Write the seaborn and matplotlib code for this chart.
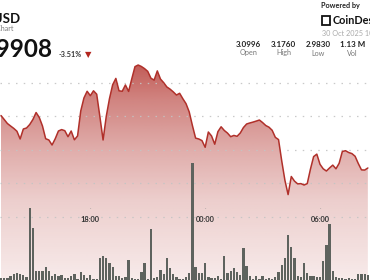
import numpy as np
import pandas as pd
import matplotlib
matplotlib.use("Agg")
import matplotlib.pyplot as plt
from matplotlib.patches import Rectangle
import matplotlib.transforms as mtransforms
import seaborn as sns

# ---------------- data ----------------
# 10-minute buckets starting 13:20 (hours since midnight of day 1; 24 = 00:00 next day)
start_hour = 13 + 20 / 60
price = [
    3.1010, 3.0951, 3.0891, 3.0854, 3.0818, 3.0775, 3.0660, 3.0809, 3.0824, 3.0876,
    3.0951, 3.1055, 3.0981, 3.0854, 3.0664, 3.0645, 3.0570, 3.0664, 3.0779, 3.0800,
    3.0784, 3.0694, 3.0779, 3.0648, 3.0705, 3.1078, 3.1272, 3.1372, 3.1306, 3.1379,
    3.1328, 3.0993, 3.0645, 3.0999, 3.1261, 3.1469, 3.1564, 3.1379, 3.1372, 3.1466,
    3.1370, 3.1558, 3.1740, 3.1764, 3.1742, 3.1710, 3.1669, 3.1567, 3.1539, 3.1676,
    3.1554, 3.1500, 3.1436, 3.1404, 3.1363, 3.1316, 3.1342, 3.1261, 3.1187, 3.1064,
    3.0861, 3.0673, 3.0660, 3.0636, 3.0536, 3.0764, 3.0705, 3.0582, 3.0770, 3.0842,
    3.0787, 3.0748, 3.0694, 3.0713, 3.0700, 3.0749, 3.0831, 3.0884, 3.0899, 3.0912,
    3.0927, 3.0943, 3.0905, 3.0861, 3.0836, 3.0790, 3.0684, 3.0651, 3.0333, 3.0043,
    2.9830, 3.0100, 3.0031, 2.9990, 2.9994, 2.9973, 2.9994, 3.0209, 3.0397, 3.0434,
    3.0282, 3.0215, 3.0182, 3.0228, 3.0270, 3.0215, 3.0297, 3.0473, 3.0485, 3.0458,
    3.0442, 3.0402, 3.0294, 3.0199, 3.0196, 3.0227,
]
volume_k = [
    1.7, 2.3, 1.7, 4.3, 5.7, 7.0, 6.3, 5.0, 3.3, 72.3,
    51.7, 9.0, 9.0, 9.0, 12.7, 9.0, 4.0, 6.3, 4.0, 5.0,
    1.7, 2.3, 3.7, 6.3, 1.0, 8.3, 5.0, 2.3, 5.0, 1.0,
    1.0, 22.3, 24.0, 22.3, 16.7, 13.3, 4.0, 4.3, 1.7, 3.3,
    20.0, 1.7, 1.0, 1.0, 8.3, 16.7, 1.0, 50.7, 1.7, 3.3,
    9.7, 5.7, 22.3, 12.3, 5.7, 3.3, 1.0, 1.0, 3.3, 6.7,
    117.3, 13.3, 6.7, 6.7, 17.3, 3.3, 2.3, 1.7, 4.3, 1.0,
    24.3, 6.7, 9.0, 11.7, 8.3, 5.0, 31.7, 14.3, 4.3, 1.0,
    4.3, 1.0, 4.3, 1.0, 1.7, 1.0, 3.3, 7.7, 15.0, 21.7,
    45.0, 33.3, 22.3, 4.3, 3.3, 16.7, 6.7, 4.3, 4.3, 3.3,
    3.3, 19.0, 35.0, 55.7, 9.0, 3.3, 1.7, 2.3, 1.0, 1.7,
    1.0, 1.0, 6.3, 6.3, 6.3, 5.0,
]
tick_hours = [18, 24, 30]
tick_labels = ["18:00", "00:00", "06:00"]
grid_levels = [3.15, 3.10, 3.05, 3.00, 2.95]
stat_values = ["3.0996", "3.1760", "2.9830", "1.13 M"]
stat_labels = ["Open", "High", "Low", "Vol"]

hours = start_hour + np.arange(len(price)) / 6.0
df = pd.DataFrame({"hour": hours, "price": price, "volume": volume_k})

# ---------------- style ----------------
sns.set_style("white")
plt.rcParams["font.family"] = ["Lato", "DejaVu Sans"]

W, H = 370, 280
fig = plt.figure(figsize=(W / 100, H / 100), dpi=100)
fig.patch.set_facecolor("white")
ax = fig.add_axes([0, 0, 1, 1])
ax.set_facecolor("white")

XMIN, XMAX = 13.281, 32.612
YMIN, YMAX = 2.85553, 3.27343

line_color = "#b0302a"

# gradient fill under the line
fill = ax.fill_between(df["hour"], df["price"], YMIN, facecolor="none", edgecolor="none")
n = 300
ypx = np.linspace(0, H, n)
alpha = np.interp(ypx, [0, 60, 100, 150, 200, 280], [0.88, 0.82, 0.6, 0.4, 0.24, 0.10])
rgba = np.zeros((n, 1, 4))
rgba[..., 0] = 178 / 255
rgba[..., 1] = 50 / 255
rgba[..., 2] = 44 / 255
rgba[..., 3] = alpha[:, None]
im = ax.imshow(rgba, extent=[XMIN, XMAX, YMIN, YMAX], aspect="auto",
               origin="upper", zorder=1, interpolation="bilinear")
im.set_clip_path(fill.get_paths()[0], transform=ax.transData)

sns.lineplot(data=df, x="hour", y="price", ax=ax, color=line_color,
             linewidth=1.1, zorder=4)

ax.set_xlim(XMIN, XMAX)
ax.set_ylim(YMIN, YMAX)
ax.set_yticks(grid_levels)
ax.set_xticks([])
ax.tick_params(length=0, labelleft=False, labelbottom=False)
ax.grid(axis="y", color="#c4c4c4", linestyle=(0, (1.2, 5.0)), linewidth=0.9, alpha=0.9)
ax.set_axisbelow(False)
for s in ax.spines.values():
    s.set_visible(False)
ax.set_xlabel("")
ax.set_ylabel("")

# volume bars
ax2 = ax.twinx()
sns.barplot(data=df, x="hour", y="volume", ax=ax2, native_scale=True,
            color="#5e635e", saturation=1, width=0.72, edgecolor="none", zorder=3)
ax2.set_ylim(0, H)
ax2.set_xlim(XMIN, XMAX)
ax2.set_yticks([])
ax2.set_xticks([])
ax2.set_xlabel("")
ax2.set_ylabel("")
for s in ax2.spines.values():
    s.set_visible(False)

# time labels inside the chart
trans = mtransforms.blended_transform_factory(ax2.transData, fig.transFigure)
for h, lab in zip(tick_hours, tick_labels):
    ax2.text(h, 1 - 221.5 / H, lab, transform=trans, ha="center", va="baseline",
             fontsize=5.4, fontweight="bold", color="#333333", zorder=6)
    ax2.text(h, 1 - 208.5 / H, "·", transform=trans, ha="center", va="center",
             fontsize=4, color="#999999", zorder=6)

# ---------------- header texts ----------------
def ftxt(x, y, s, **kw):
    fig.text(x / W, 1 - y / H, s, **kw)

ftxt(21, 22.7, "XRP/USD", ha="right", va="baseline", fontsize=9.5,
     fontweight="bold", color="#111111")
ftxt(13.5, 30.7, "XRP Price Chart", ha="right", va="baseline", fontsize=5,
     color="#777777")
ftxt(52, 57.3, "2.9908", ha="right", va="baseline", fontsize=17.5,
     fontweight="bold", color="#111111")
ftxt(59, 56.7, "-3.51%", ha="left", va="baseline", fontsize=5.2,
     fontweight="bold", color="#333333")
ftxt(88.3, 54.5, "▼", ha="center", va="center", fontsize=6,
     color="#b3261e", family=["DejaVu Sans"])

ftxt(321, 8, "Powered by", ha="left", va="baseline", fontsize=5.2,
     fontweight="bold", color="#222222")
fig.patches.append(Rectangle((321.5 / W, 1 - 24.5 / H), 8 / W, 9 / H,
                             transform=fig.transFigure, fill=False,
                             edgecolor="#111111", linewidth=1.3))
ftxt(333, 24.5, "CoinDesk", ha="left", va="baseline", fontsize=7.8,
     fontweight="bold", color="#111111")
ftxt(322, 35.5, "30 Oct 2025 10:00 UTC", ha="left", va="baseline", fontsize=5.2,
     color="#aaaaaa")

stat_x = [248.3, 283.7, 318, 352.7]
for x, v, l in zip(stat_x, stat_values, stat_labels):
    ftxt(x, 46.7, v, ha="center", va="baseline", fontsize=5.8,
         fontweight="bold", color="#222222")
    ftxt(x, 55.5, l, ha="center", va="baseline", fontsize=5.2,
         color="#777777")

fig.savefig("out.png", dpi=100, facecolor="white")
